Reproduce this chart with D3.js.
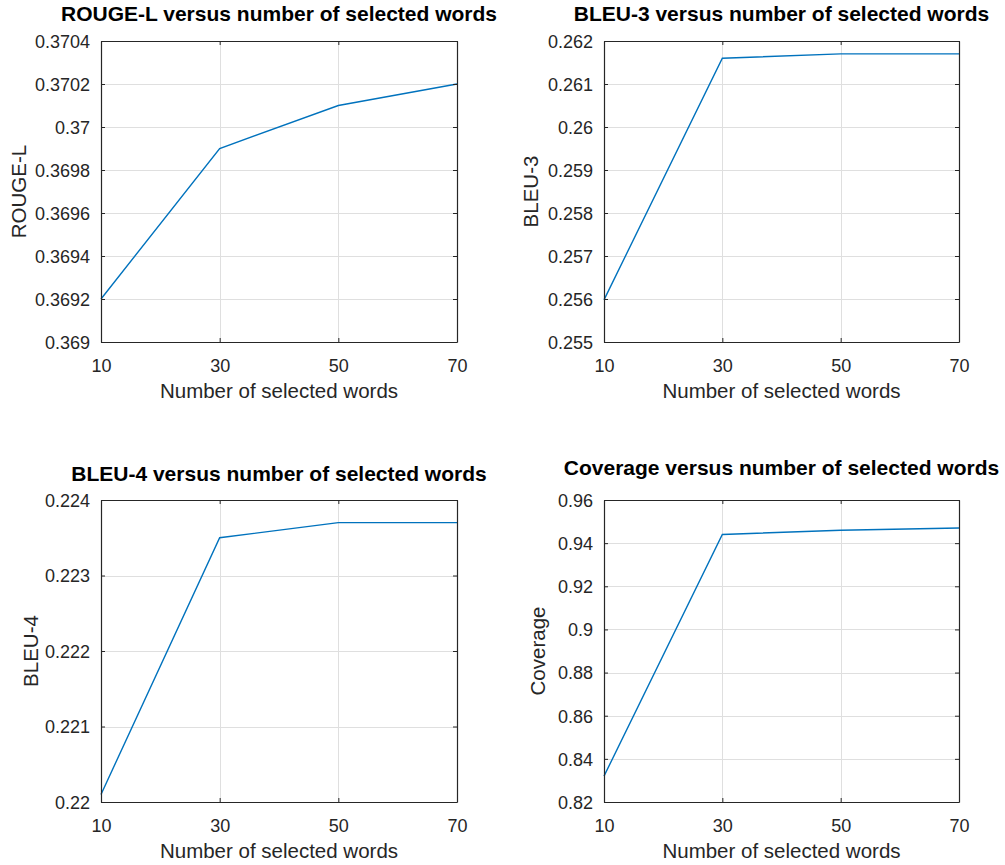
<!DOCTYPE html>
<html>
<head>
<meta charset="utf-8">
<script src="https://cdn.jsdelivr.net/npm/d3@7"></script>
<style>
  html, body { margin: 0; padding: 0; background: #fff; }
  svg { display: block; }
  text { font-family: "Liberation Sans", Arial, Helvetica, sans-serif; }
</style>
</head>
<body>
<svg id="chart" width="1005" height="865"></svg>
<script>
// ---------------- data ----------------
const selectedWords = [10, 30, 50, 70];
const xTickValues = [10, 30, 50, 70];

const rougeL   = [0.3692, 0.3699, 0.3701, 0.3702];
const bleu3    = [0.25598, 0.2616, 0.2617, 0.2617];
const bleu4    = [0.2201, 0.2235, 0.2237, 0.2237];
const coverage = [0.832, 0.944, 0.946, 0.947];

const rougeTicks    = [0.369, 0.3692, 0.3694, 0.3696, 0.3698, 0.37, 0.3702, 0.3704];
const rougeLabels   = ["0.369", "0.3692", "0.3694", "0.3696", "0.3698", "0.37", "0.3702", "0.3704"];
const bleu3Ticks    = [0.255, 0.256, 0.257, 0.258, 0.259, 0.26, 0.261, 0.262];
const bleu3Labels   = ["0.255", "0.256", "0.257", "0.258", "0.259", "0.26", "0.261", "0.262"];
const bleu4Ticks    = [0.22, 0.221, 0.222, 0.223, 0.224];
const bleu4Labels   = ["0.22", "0.221", "0.222", "0.223", "0.224"];
const coverageTicks = [0.82, 0.84, 0.86, 0.88, 0.9, 0.92, 0.94, 0.96];
const coverageLabels= ["0.82", "0.84", "0.86", "0.88", "0.9", "0.92", "0.94", "0.96"];

const titles = [
  "ROUGE-L versus number of selected words",
  "BLEU-3 versus number of selected words",
  "BLEU-4 versus number of selected words",
  "Coverage versus number of selected words"
];
const yLabels = ["ROUGE-L", "BLEU-3", "BLEU-4", "Coverage"];
const xLabel = "Number of selected words";

// ---------------- layout ----------------
const panels = [
  { values: rougeL,   ticks: rougeTicks,    labels: rougeLabels,    left: 101, right: 457, top: 41,  bottom: 342, titleY: 21,  yLabX: 26 },
  { values: bleu3,    ticks: bleu3Ticks,    labels: bleu3Labels,    left: 604, right: 959, top: 41,  bottom: 342, titleY: 21,  yLabX: 538 },
  { values: bleu4,    ticks: bleu4Ticks,    labels: bleu4Labels,    left: 101, right: 457, top: 500, bottom: 802, titleY: 481, yLabX: 38 },
  { values: coverage, ticks: coverageTicks, labels: coverageLabels, left: 604, right: 959, top: 500, bottom: 802, titleY: 475, yLabX: 545 }
];

const axisColor = "#262626";
const gridColor = "#dfdfdf";
const lineColor = "#0072BD";
const tickLen = 4;

const svg = d3.select("#chart");

panels.forEach((p, i) => {
  const x = d3.scaleLinear().domain([xTickValues[0], xTickValues[xTickValues.length - 1]]).range([p.left, p.right]);
  const y = d3.scaleLinear().domain([p.ticks[0], p.ticks[p.ticks.length - 1]]).range([p.bottom, p.top]);
  const g = svg.append("g");

  // grid
  g.append("g").selectAll("line.gx").data(xTickValues).join("line")
    .attr("x1", d => Math.round(x(d)) + 0.5).attr("x2", d => Math.round(x(d)) + 0.5)
    .attr("y1", p.top).attr("y2", p.bottom)
    .attr("stroke", gridColor).attr("stroke-width", 1);
  g.append("g").selectAll("line.gy").data(p.ticks).join("line")
    .attr("y1", d => Math.round(y(d)) + 0.5).attr("y2", d => Math.round(y(d)) + 0.5)
    .attr("x1", p.left).attr("x2", p.right)
    .attr("stroke", gridColor).attr("stroke-width", 1);

  // data line
  const line = d3.line().x((d, j) => x(selectedWords[j])).y(d => y(d));
  g.append("path").datum(p.values)
    .attr("d", line)
    .attr("fill", "none").attr("stroke", lineColor).attr("stroke-width", 1.4);

  // axes (box)
  const xAxisB = d3.axisBottom(x).tickValues(xTickValues).tickFormat(d3.format("d")).tickSizeInner(-tickLen).tickSizeOuter(0).tickPadding(14);
  const xAxisT = d3.axisTop(x).tickValues(xTickValues).tickFormat("").tickSizeInner(-tickLen).tickSizeOuter(0);
  const yAxisL = d3.axisLeft(y).tickValues(p.ticks).tickFormat((d, j) => p.labels[j]).tickSizeInner(-tickLen).tickSizeOuter(0).tickPadding(11);
  const yAxisR = d3.axisRight(y).tickValues(p.ticks).tickFormat("").tickSizeInner(-tickLen).tickSizeOuter(0);

  const styleAxis = sel => {
    sel.select(".domain").attr("stroke", axisColor).attr("stroke-width", 1.2);
    sel.selectAll(".tick line").attr("stroke", axisColor).attr("stroke-width", 1);
    sel.selectAll(".tick text").attr("fill", axisColor).style("font-size", "18px").attr("font-family", null);
  };

  g.append("g").attr("transform", `translate(0,${p.bottom})`).call(xAxisB).call(styleAxis)
    .selectAll(".tick text").attr("dy", null).attr("y", 30).attr("dominant-baseline", "alphabetic");
  g.append("g").attr("transform", `translate(0,${p.top})`).call(xAxisT).call(styleAxis);
  g.append("g").attr("transform", `translate(${p.left},0)`).call(yAxisL).call(styleAxis)
    .selectAll(".tick text").attr("dy", "0.35em");
  g.append("g").attr("transform", `translate(${p.right},0)`).call(yAxisR).call(styleAxis);

  // title
  g.append("text")
    .attr("x", (p.left + p.right) / 2).attr("y", p.titleY)
    .attr("text-anchor", "middle")
    .style("font-size", "21px").style("font-weight", "bold")
    .attr("fill", "#000")
    .text(titles[i]);

  // x label
  g.append("text")
    .attr("x", (p.left + p.right) / 2).attr("y", p.bottom + 56)
    .attr("text-anchor", "middle")
    .style("font-size", "20.5px")
    .attr("fill", axisColor)
    .text(xLabel);

  // y label
  g.append("text")
    .attr("transform", `translate(${p.yLabX},${(p.top + p.bottom) / 2}) rotate(-90)`)
    .attr("text-anchor", "middle")
    .style("font-size", "20.5px")
    .attr("fill", axisColor)
    .text(yLabels[i]);
});
</script>
</body>
</html>
